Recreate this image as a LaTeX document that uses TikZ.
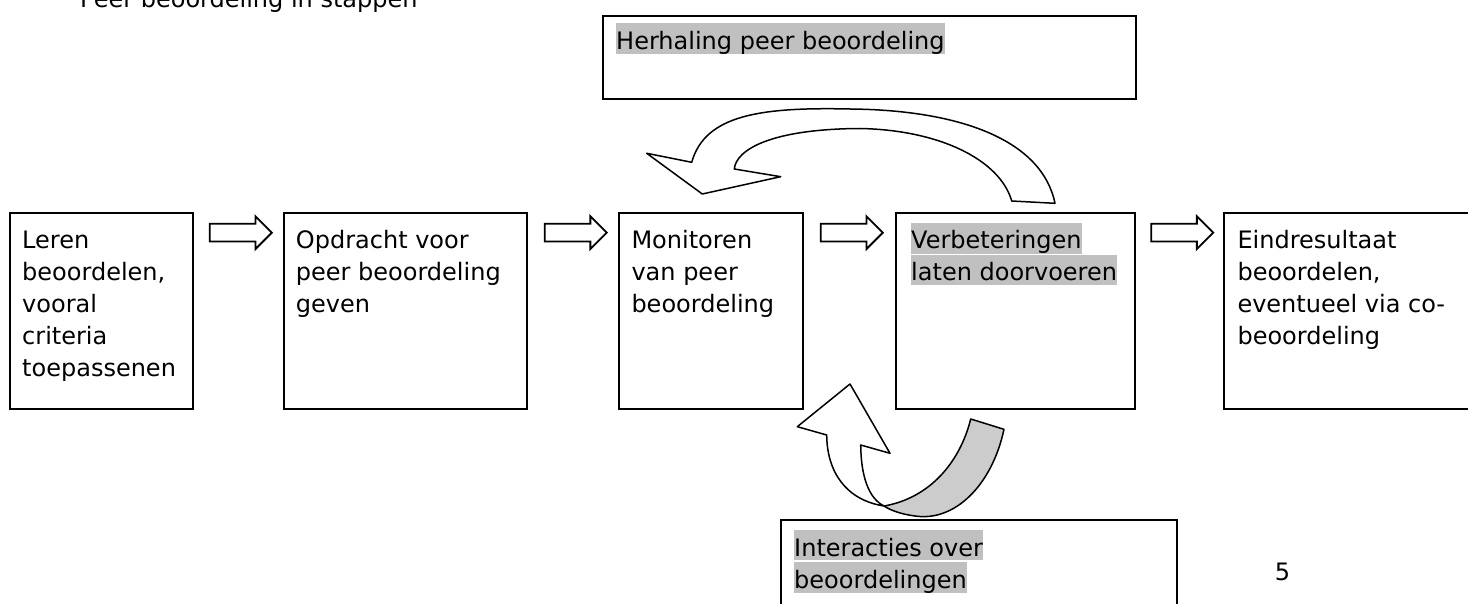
\documentclass[tikz,border=0pt]{standalone}
\usepackage{fontspec}
\setmainfont{DejaVu Sans}
\usetikzlibrary{positioning,shapes.arrows,calc}
\definecolor{ink}{HTML}{000000}
\definecolor{hlgrey}{HTML}{C0C0C0}
\definecolor{fold}{HTML}{CCCCCC}
\newcommand{\lnstrut}{\rule[-4pt]{0pt}{30pt}}
\newcommand{\hilite}[1]{{\setlength{\fboxsep}{0pt}\colorbox{hlgrey}{\lnstrut#1}}}

\begin{document}
\begin{tikzpicture}[x=1pt,y=-1pt,
  box/.style={draw=ink,line width=2pt,minimum height=196.6pt,inner sep=0pt},
  txt/.style={anchor=north west,inner sep=0pt,align=left,font=\fontsize{24}{32}\selectfont},
  blockarrow/.style={single arrow,draw=ink,line width=1.8pt,fill=white,minimum height=62pt,text height=8pt,text depth=8pt,text width=0pt,single arrow head extend=7.5pt,inner sep=0pt},
  curvedarrow/.style={draw=ink,line width=1.5pt,line join=round,fill=white}]
  \useasboundingbox (0,0) rectangle (1468,604);
  \clip (0,0) rectangle (1468,604);
  \node[txt,anchor=base west] (titel) at (80,7.5) {Peer beoordeling in stappen};
  % steps
  \node[box,minimum width=183pt] (leren) at (101.5,311) {};
  \node[box,minimum width=243.6pt,right=88.7pt of leren] (opdracht) {};
  \node[box,minimum width=183.4pt,right=90pt of opdracht] (monitoren) {};
  \node[box,minimum width=239.3pt,right=91.3pt of monitoren] (verbeter) {};
  \node[box,minimum width=300pt,right=87pt of verbeter] (eind) {};
  \node[txt] (lerentxt) at ([shift={(13,11)}]leren.north west) {\lnstrut Leren\\beoordelen,\\vooral\\criteria\\toepassenen};
  \node[txt] (opdrachttxt) at ([shift={(13,11)}]opdracht.north west) {\lnstrut Opdracht voor\\peer beoordeling\\geven};
  \node[txt] (monitorentxt) at ([shift={(13,11)}]monitoren.north west) {\lnstrut Monitoren\\van peer\\beoordeling};
  \node[txt] (verbetertxt) at ([shift={(16,11)}]verbeter.north west) {\hilite{Verbeteringen}\\\hilite{laten doorvoeren}};
  \node[txt] (eindtxt) at ([shift={(14,11)}]eind.north west) {\lnstrut Eindresultaat\\beoordelen,\\eventueel via co-\\beoordeling};
  % loops
  \node[box,minimum width=533pt,minimum height=83pt] (herhaling) at (869.5,57.5) {};
  \node[txt] (herhalingtxt) at ([shift={(14,8)}]herhaling.north west) {\hilite{Herhaling peer beoordeling}};
  \node[box,minimum width=396pt,minimum height=120pt] (interacties) at (979,580) {};
  \node[txt] (interactiestxt) at ([shift={(14,11)}]interacties.north west) {\hilite{Interacties over}\\\hilite{beoordelingen}};
  \node[txt,anchor=base west] (paginanr) at (1274.6,580) {5};
  % block arrows
  \node[blockarrow] (pijl1) at ($(leren.north east)!.5!(opdracht.north west)+(-2,21)$) {};
  \node[blockarrow] (pijl2) at ($(opdracht.north east)!.5!(monitoren.north west)+(-2,21)$) {};
  \node[blockarrow] (pijl3) at ($(monitoren.north east)!.5!(verbeter.north west)+(-2,21)$) {};
  \node[blockarrow] (pijl4) at ($(verbeter.north east)!.5!(eind.north west)+(-2,21)$) {};
  % curved arrows
  \draw[curvedarrow] (1055,203.3) .. controls (1042,140) and (960,110) .. (850,109)
    .. controls (760,107) and (705,115) .. (691.7,162.3) -- (646.7,153.3) -- (702.3,194)
    -- (780.7,176.7) -- (734.3,169) .. controls (736,150) and (770,129) .. (860,128.5)
    .. controls (940,130) and (1000,160) .. (1011.7,201) -- cycle;
  \draw[curvedarrow,fill=fold] (884,506) .. controls (930,498) and (960,462) .. (970.7,419)
    -- (1004,429.3) .. controls (992,485) and (955,522) .. (915,516)
    .. controls (900,514) and (890,510) .. (884,506) -- cycle;
  \draw[curvedarrow] (826.7,435) .. controls (827,472) and (846,500) .. (884,506)
    .. controls (868,498) and (861,475) .. (860.7,445) -- (890,453.3) -- (850,384)
    -- (797.3,426.7) -- cycle;
\end{tikzpicture}
\end{document}
